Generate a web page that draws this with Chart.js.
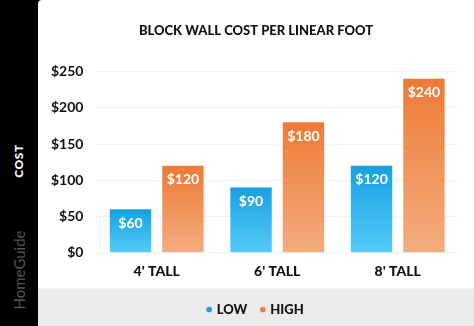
<!DOCTYPE html>
<html>
<head>
<meta charset="utf-8">
<script src="https://cdn.jsdelivr.net/npm/chart.js@4"></script>
<style>
  html, body { margin: 0; padding: 0; background: #000; }
  #strip { position: absolute; left: 0; top: 0; width: 38px; height: 326px; background: #000; }
  .side { position: absolute; left: -41px; width: 120px; height: 16px; line-height: 16px; text-align: center; transform: rotate(-90deg); white-space: nowrap; font-family: Lato, sans-serif; }
  #cost { top: 153px; color: #fff; font-weight: 900; font-size: 12px; letter-spacing: 0.5px; }
  #brand { top: 262px; color: #555; font-weight: 400; font-size: 15px; }
  #card { position: absolute; left: 38px; top: 0; width: 436px; height: 326px; background: #fff; border-top-left-radius: 4px; overflow: hidden; }
</style>
</head>
<body>
<div id="strip">
  <div class="side" id="cost">COST</div>
  <div class="side" id="brand">HomeGuide</div>
</div>
<div id="card"><canvas id="chart" width="436" height="326"></canvas></div>
<script>
  // chart data
  const categories = ["4' TALL", "6' TALL", "8' TALL"];
  const lowValues = [60, 90, 120];
  const highValues = [120, 180, 240];
  const seriesNames = ['LOW', 'HIGH'];
  const yTicks = [0, 50, 100, 150, 200, 250];

  const blueTop = '#17a0e1', blueBottom = '#55cbfa';
  const orangeTop = '#ec7b36', orangeBottom = '#f4ac7e';

  // per-bar vertical gradient
  function barFill(topColor, bottomColor) {
    return function (c) {
      const chart = c.chart;
      if (!chart.chartArea || c.type !== 'data') return topColor;
      const y = chart.scales.y;
      const yTop = y.getPixelForValue(c.raw);
      const yBot = y.getPixelForValue(0);
      const g = chart.ctx.createLinearGradient(0, yTop, 0, yBot);
      g.addColorStop(0, topColor);
      g.addColorStop(1, bottomColor);
      return g;
    };
  }

  // gray band behind the legend
  const legendBand = {
    id: 'legendBand',
    beforeDraw(chart) {
      const { ctx, legend } = chart;
      ctx.save();
      ctx.fillStyle = '#ebebeb';
      ctx.fillRect(0, legend.top, chart.width, chart.height - legend.top);
      ctx.restore();
    }
  };

  // value labels inside the bars
  const valueLabels = {
    id: 'valueLabels',
    afterDatasetsDraw(chart) {
      const { ctx } = chart;
      ctx.save();
      ctx.font = 'bold 14px Lato';
      ctx.fillStyle = '#fff';
      ctx.textAlign = 'center';
      ctx.textBaseline = 'middle';
      chart.data.datasets.forEach(function (ds, i) {
        chart.getDatasetMeta(i).data.forEach(function (bar, j) {
          ctx.fillText('$' + ds.data[j], bar.x, bar.y + 14);
        });
      });
      ctx.restore();
    }
  };

  const legendColors = [blueTop, orangeTop];

  new Chart(document.getElementById('chart'), {
    type: 'bar',
    data: {
      labels: categories,
      datasets: [
        { label: seriesNames[0], data: lowValues, backgroundColor: barFill(blueTop, blueBottom) },
        { label: seriesNames[1], data: highValues, backgroundColor: barFill(orangeTop, orangeBottom) }
      ]
    },
    options: {
      responsive: false,
      animation: false,
      layout: { padding: 0 },
      datasets: {
        bar: { categoryPercentage: 0.87, barPercentage: 0.79, borderWidth: 0 }
      },
      plugins: {
        title: {
          display: true,
          text: 'BLOCK WALL COST PER LINEAR FOOT',
          color: '#111',
          font: { family: 'Lato', weight: '900', size: 13 },
          padding: { top: 23, bottom: 33 }
        },
        legend: {
          position: 'bottom',
          labels: {
            usePointStyle: true,
            pointStyle: 'circle',
            boxWidth: 2,
            boxHeight: 4,
            padding: 14.5,
            color: '#111',
            font: { family: 'Lato', weight: '900', size: 13 },
            generateLabels: function (chart) {
              return Chart.defaults.plugins.legend.labels.generateLabels(chart).map(function (l, i) {
                l.fillStyle = legendColors[i];
                l.strokeStyle = legendColors[i];
                l.lineWidth = 0;
                return l;
              });
            }
          }
        },
        tooltip: { enabled: false }
      },
      scales: {
        x: {
          grid: { display: false, drawTicks: false },
          border: { display: false },
          ticks: { color: '#111', padding: 10, font: { family: 'Lato', weight: '900', size: 14 } },
          afterFit: function (scale) { scale.height -= 1; }
        },
        y: {
          min: 0,
          max: 250,
          grid: { color: '#f1f1f1', drawTicks: false },
          border: { display: false },
          afterBuildTicks: function (scale) {
            scale.ticks = yTicks.map(function (v) { return { value: v }; });
          },
          ticks: {
            color: '#111',
            padding: 13,
            font: { family: 'Lato', weight: 'bold', size: 14 },
            callback: function (v) { return '$' + v; }
          }
        },
        // empty right-hand margin so title and legend stay centred on the card
        spacer: {
          type: 'linear',
          position: 'right',
          display: true,
          grid: { display: false, drawTicks: false },
          border: { display: false },
          ticks: { display: false },
          afterFit: function (scale) { scale.width = 16; }
        }
      }
    },
    plugins: [legendBand, valueLabels]
  });
</script>
</body>
</html>
